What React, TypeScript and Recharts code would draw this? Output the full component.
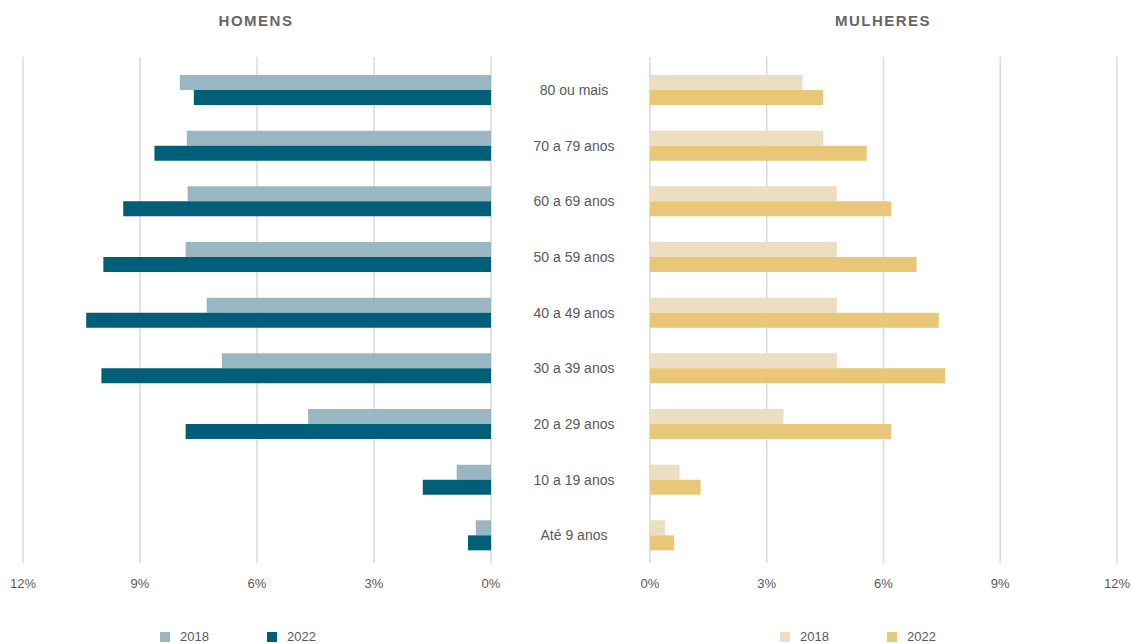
import { BarChart, Bar, XAxis, YAxis, CartesianGrid, Legend } from 'recharts'

const ageGroups = ['80 ou mais', '70 a 79 anos', '60 a 69 anos', '50 a 59 anos', '40 a 49 anos', '30 a 39 anos', '20 a 29 anos', '10 a 19 anos', 'Até 9 anos']
const men2018 = [7.98, 7.8, 7.78, 7.83, 7.29, 6.9, 4.69, 0.88, 0.39]
const men2022 = [7.62, 8.63, 9.43, 9.94, 10.38, 9.99, 7.83, 1.75, 0.59]
const women2018 = [3.92, 4.45, 4.8, 4.8, 4.8, 4.8, 3.43, 0.76, 0.39]
const women2022 = [4.45, 5.57, 6.2, 6.85, 7.42, 7.58, 6.2, 1.3, 0.62]
const years = ['2018', '2022']
const pctTicks = [0, 3, 6, 9, 12]

const FONT = '"Liberation Sans", Arial, sans-serif'
const TEXT = '#595959'
const MEN_COLORS = ['#98b7c2', '#005f78']
const WOMEN_COLORS = ['#ecdec1', '#e9c779']

const menData = ageGroups.map((age, i) => ({ age, y2018: men2018[i], y2022: men2022[i] }))
const womenData = ageGroups.map((age, i) => ({ age, y2018: women2018[i], y2022: women2022[i] }))

const fmtPct = (v: number) => `${v}%`

const makeLegend = (colors: string[]) => () => (
  <div style={{ display: 'flex', fontFamily: FONT, fontSize: 13, color: TEXT, lineHeight: '14px' }}>
    {years.map((y, i) => (
      <div key={y} style={{ display: 'flex', alignItems: 'center', width: 107 }}>
        <span style={{ display: 'inline-block', width: 10, height: 10, background: colors[i], marginRight: 10 }} />
        <span>{y}</span>
      </div>
    ))}
  </div>
)

const AgeTick = (props: any) => {
  const { y, payload } = props
  return (
    <text x={84} y={y} dy={5} textAnchor="middle" fill={TEXT} fontSize={14} fontFamily={FONT}>
      {payload.value}
    </text>
  )
}

const titleStyle = {
  position: 'absolute' as const,
  top: 12,
  fontFamily: FONT,
  fontSize: 15,
  fontWeight: 700,
  letterSpacing: 1.5,
  color: '#666666',
  transform: 'translateX(-50%)',
  whiteSpace: 'nowrap' as const,
}

export default function App() {
  return (
    <div style={{ position: 'absolute', left: 0, top: 0, width: 1132, height: 643, background: '#fff', overflow: 'hidden' }}>
      <div style={{ ...titleStyle, left: 256 }}>HOMENS</div>
      <div style={{ ...titleStyle, left: 883 }}>MULHERES</div>

      <div style={{ position: 'absolute', left: 0, top: 0 }}>
        <BarChart width={511} height={643} data={menData} layout="vertical" barSize={15} barGap={0}
          margin={{ top: 57, right: 20, left: 23, bottom: 50 }}>
          <CartesianGrid horizontal={false} stroke="#d9d9d9" strokeWidth={1.5} />
          <XAxis type="number" domain={[0, 12]} ticks={pctTicks} reversed tickFormatter={fmtPct}
            axisLine={false} tickLine={false} tickMargin={10}
            tick={{ fill: TEXT, fontSize: 13, fontFamily: FONT }} />
          <YAxis type="category" dataKey="age" hide padding={{ top: 5, bottom: 0 }} />
          <Legend layout="horizontal" verticalAlign="middle" content={makeLegend(MEN_COLORS)}
            wrapperStyle={{ top: 630, left: 160, width: 300 }} />
          <Bar dataKey="y2018" name="2018" fill={MEN_COLORS[0]} isAnimationActive={false} />
          <Bar dataKey="y2022" name="2022" fill={MEN_COLORS[1]} isAnimationActive={false} />
        </BarChart>
      </div>

      <div style={{ position: 'absolute', left: 490, top: 0 }}>
        <BarChart width={642} height={643} data={womenData} layout="vertical" barSize={15} barGap={0}
          margin={{ top: 57, right: 15, left: 0, bottom: 50 }}>
          <CartesianGrid horizontal={false} stroke="#d9d9d9" strokeWidth={1.5} />
          <XAxis type="number" domain={[0, 12]} ticks={pctTicks} tickFormatter={fmtPct}
            axisLine={false} tickLine={false} tickMargin={10}
            tick={{ fill: TEXT, fontSize: 13, fontFamily: FONT }} />
          <YAxis type="category" dataKey="age" width={160} axisLine={false} tickLine={false}
            padding={{ top: 5, bottom: 0 }} tick={<AgeTick />} />
          <Legend layout="horizontal" verticalAlign="middle" content={makeLegend(WOMEN_COLORS)}
            wrapperStyle={{ top: 630, left: 290, width: 300 }} />
          <Bar dataKey="y2018" name="2018" fill={WOMEN_COLORS[0]} isAnimationActive={false} />
          <Bar dataKey="y2022" name="2022" fill={WOMEN_COLORS[1]} isAnimationActive={false} />
        </BarChart>
      </div>
    </div>
  )
}
